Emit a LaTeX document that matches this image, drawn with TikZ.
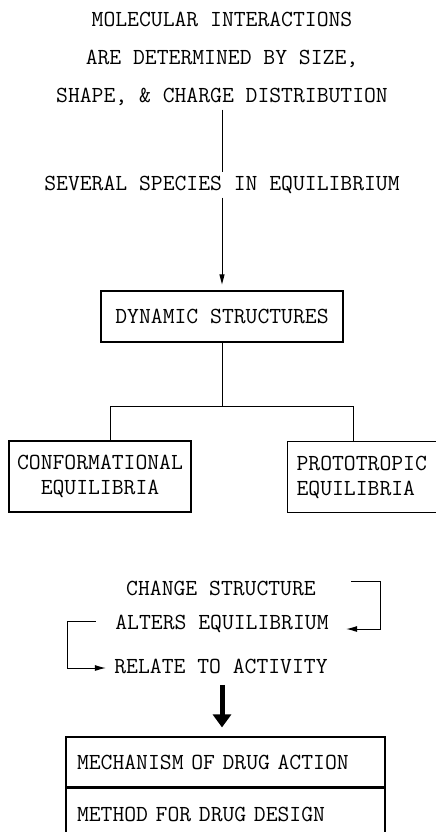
\documentclass[tikz,border=0pt]{standalone}
\usepackage{fontspec}
\usetikzlibrary{arrows.meta}

\begin{document}
\begin{tikzpicture}[x=1pt, y=-1pt, line width=1pt,
  font=\ttfamily\fontsize{23}{25}\selectfont,
  label/.style={inner sep=0pt},
  stage/.style={draw, line width=1.2pt, minimum height=51pt},
  link/.style={-{Triangle[length=10pt,width=5pt]}},
  loop/.style={-{Latex[length=11pt,width=6pt]}},
  bigarrow/.style={line width=5pt, -{Triangle[length=13pt,width=18pt]}}]
\clip (0,0) rectangle (436,832);
% top: statement and species
\node[align=center, font=\ttfamily\fontsize{23}{38}\selectfont] (mol) at (222,59) {MOLECULAR INTERACTIONS\\ARE DETERMINED BY SIZE,\\SHAPE, \& CHARGE DISTRIBUTION};
\node (sev) at (222,185) {SEVERAL SPECIES IN EQUILIBRIUM};
\draw (mol.south) -- (sev.north);
\node[stage, minimum width=242pt] (dyn) at (222,316.5) {DYNAMIC STRUCTURES};
\draw[link, shorten >=6pt] (sev.south) -- (dyn.north);
% branches
\coordinate (lt) at (110,406);
\coordinate (rt) at (353,406);
\node[stage, minimum width=182pt, minimum height=71pt, align=center] (conf) at (100,476.5) {CONFORMATIONAL\\EQUILIBRIA};
\node[stage, minimum height=71pt, text width=150pt, inner xsep=9pt, align=left, anchor=west] (prot) at (287,477) {PROTOTROPIC\\EQUILIBRIA};
\draw (dyn.south) -- (dyn.south |- lt);
\draw (conf.north -| lt) -- (lt) -- (rt) -- (prot.north -| rt);
% cycle of structure and activity
\node[label] (chg) at (221,588) {CHANGE STRUCTURE};
\node[label] (alt) at (222,624) {ALTERS EQUILIBRIUM};
\node[label] (rel) at (221,666) {RELATE TO ACTIVITY};
\draw[loop] ([xshift=35pt,yshift=7pt]chg.east) -- ++(29,0) |- ([xshift=17pt,yshift=-5pt]alt.east);
\draw[loop] ([xshift=-19pt,yshift=3pt]alt.west) -- ++(-28,0) |- ([xshift=-8pt,yshift=-2pt]rel.west);
% outcome
\node[stage, minimum height=50pt, text width=297pt, inner xsep=11pt, align=left] (mech) at (225.5,762) {MECHANISM OF DRUG ACTION};
\node[stage, minimum height=53pt, text width=297pt, inner xsep=11pt, align=left, anchor=north] (meth) at (mech.south) {METHOD FOR DRUG DESIGN};
\draw[bigarrow, shorten <=11pt, shorten >=9pt] (alt.south |- rel.south) -- (alt.south |- mech.north);
\end{tikzpicture}
\end{document}
